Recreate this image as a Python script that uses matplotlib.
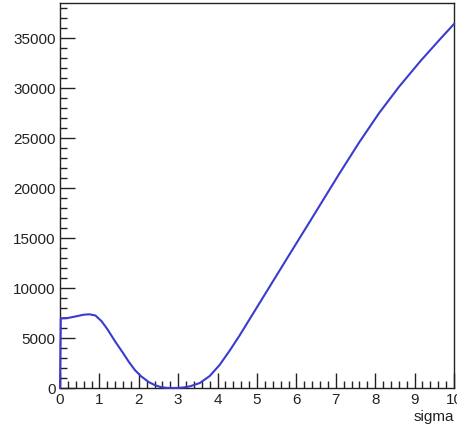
import matplotlib
matplotlib.use("Agg")
import matplotlib.pyplot as plt
from matplotlib.ticker import MultipleLocator

# values
sigma = [0.0, 0.02, 0.2, 0.45, 0.6, 0.75, 0.9, 1.05, 1.2, 1.4, 1.6, 1.75,
         1.9, 2.05, 2.25, 2.4, 2.55, 2.7, 2.85, 3.0, 3.15, 3.3, 3.55, 3.8,
         4.05, 4.3, 4.55, 4.8, 5.05, 5.3, 5.8, 6.35, 6.85, 7.1, 7.6, 8.1,
         8.6, 9.15, 9.65, 10.0]
chi2 = [0, 6970, 7000, 7200, 7330, 7370, 7250, 6700, 5900, 4650, 3500, 2600,
        1800, 1200, 600, 300, 100, 15, 0, 10, 60, 170, 500, 1200,
        2300, 3700, 5200, 6800, 8400, 10000, 13200, 16700, 19900, 21500,
        24600, 27500, 30100, 32700, 34900, 36400]

plt.rcParams['font.family'] = ['Liberation Sans', 'DejaVu Sans']

fig = plt.figure(figsize=(4.57, 4.27), dpi=100)
ax = fig.add_axes([60/457, 38/427, 394/457, 385/427])

ax.plot(sigma, chi2, color='#3b3bd0', lw=1.5, zorder=3, clip_on=False,
        solid_joinstyle='round')

ax.set_xlim(0, 10)
ax.set_ylim(0, 38500)
ax.xaxis.set_major_locator(MultipleLocator(1))
ax.xaxis.set_minor_locator(MultipleLocator(0.2))
ax.yaxis.set_major_locator(MultipleLocator(5000))
ax.yaxis.set_minor_locator(MultipleLocator(1000))
ax.tick_params(which='both', direction='in', top=False, right=False,
               labelsize=11, colors='#222222', pad=3)
ax.tick_params(which='major', length=11, width=1)
ax.tick_params(which='minor', length=5, width=1)
for s in ax.spines.values():
    s.set_color('#222222')
    s.set_linewidth(1)

ax.set_xlabel('sigma', fontsize=11, color='#222222', loc='right', labelpad=2)

fig.savefig('out.png', dpi=100)
